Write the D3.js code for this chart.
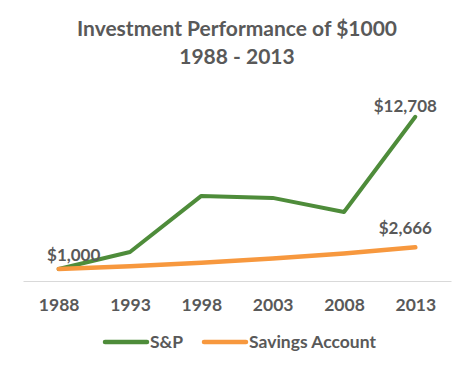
<!DOCTYPE html>
<html>
<head>
<meta charset="utf-8">
<script src="https://cdn.jsdelivr.net/npm/d3@7"></script>
<style>
  body { margin: 0; background: #fff; }
  text { font-family: Lato, "Open Sans", sans-serif; font-weight: bold; fill: #595959; }
</style>
</head>
<body>
<div id="chart"></div>
<script>
var years = ["1988", "1993", "1998", "2003", "2008", "2013"];
var sp = [1000, 2310, 6620, 6470, 5390, 12708];
var savings = [1000, 1220, 1480, 1800, 2190, 2666];
var seriesNames = ["S&P", "Savings Account"];
var titleLines = ["Investment Performance of $1000", "1988 - 2013"];

var width = 474, height = 373;
var colors = ["#4E8C3A", "#F7983E"];

var svg = d3.select("#chart").append("svg")
  .attr("width", width)
  .attr("height", height);

var x = d3.scalePoint()
  .domain(years)
  .range([23, 451])
  .padding(0.5);

var y = d3.scaleLinear()
  .domain([0, 14000])
  .range([282, 100]);

// title
svg.selectAll(".title")
  .data(titleLines)
  .enter().append("text")
  .attr("class", "title")
  .attr("x", 237)
  .attr("y", function (d, i) { return 36 + i * 28; })
  .attr("text-anchor", "middle")
  .style("font-size", "21px")
  .text(function (d) { return d; });

// axis
var xAxis = svg.append("g")
  .attr("transform", "translate(0,281)")
  .call(d3.axisBottom(x).tickSize(0).tickPadding(18));
xAxis.select(".domain").attr("stroke", "#d9d9d9").attr("stroke-width", 1.2);
xAxis.selectAll("text")
  .style("font-size", "17.5px")
  .style("font-family", "Lato, sans-serif")
  .attr("fill", "#595959");

var line = d3.line()
  .x(function (d, i) { return x(years[i]); })
  .y(function (d) { return y(d); });

var data = [sp, savings];
svg.selectAll(".series")
  .data(data)
  .enter().append("path")
  .attr("class", "series")
  .attr("fill", "none")
  .attr("stroke", function (d, i) { return colors[i]; })
  .attr("stroke-width", function (d, i) { return i === 0 ? 4 : 4.5; })
  .attr("stroke-linecap", "round")
  .attr("stroke-linejoin", "round")
  .attr("d", line);

// savings drawn on top (Excel order)
svg.selectAll(".series").filter(function (d, i) { return i === 1; }).raise();

var fmt = d3.format("$,");
var labels = [
  { v: sp[0], i: 0, dx: 15, dy: -8 },
  { v: sp[5], i: 5, dx: -10, dy: -5 },
  { v: savings[5], i: 5, dx: -10, dy: -13 }
];
svg.selectAll(".dlabel")
  .data(labels)
  .enter().append("text")
  .attr("class", "dlabel")
  .attr("x", function (d) { return x(years[d.i]) + d.dx; })
  .attr("y", function (d) { return y(d.v) + d.dy; })
  .attr("text-anchor", "middle")
  .style("font-size", "17px")
  .text(function (d) { return fmt(d.v); });

// legend
var legend = svg.append("g").attr("transform", "translate(0,342)");
var legendX = [105, 204];
seriesNames.forEach(function (name, i) {
  legend.append("line")
    .attr("x1", legendX[i]).attr("x2", legendX[i] + 42)
    .attr("y1", 0).attr("y2", 0)
    .attr("stroke", colors[i])
    .attr("stroke-width", 4.5)
    .attr("stroke-linecap", "round");
  legend.append("text")
    .attr("x", legendX[i] + 45)
    .attr("y", 6)
    .style("font-size", "17.5px")
    .text(name);
});
</script>
</body>
</html>
